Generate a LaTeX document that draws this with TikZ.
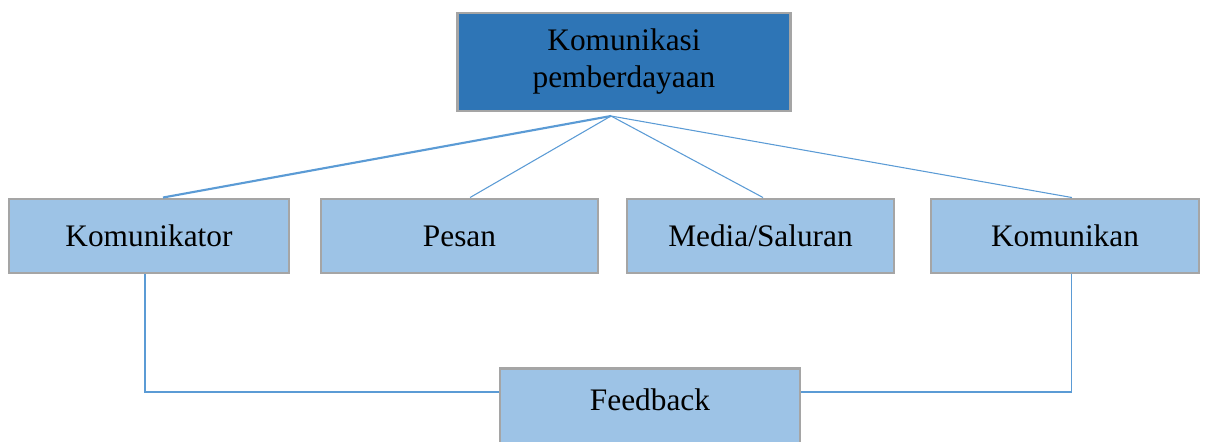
\documentclass[tikz,border=0pt]{standalone}
\usepackage{fontspec}
\setmainfont{Liberation Serif}
\definecolor{darkbox}{HTML}{2E75B6}
\definecolor{lightbox}{HTML}{9DC3E6}
\definecolor{edgegray}{HTML}{A5A5A5}
\definecolor{linkblue}{HTML}{5B9BD5}
\begin{document}
\begin{tikzpicture}[x=0.75pt,y=-0.75pt,
  box/.style={draw=edgegray,line width=2.2pt,fill=lightbox,inner sep=0pt,
    font=\fontsize{23.5pt}{27.75pt}\selectfont,align=center},
  topbox/.style={box,fill=darkbox},
  link/.style={draw=linkblue,line width=0.8pt}]
\useasboundingbox (0,0) rectangle (1208,442);
\node[topbox,minimum width=333*0.75pt,minimum height=98*0.75pt] (top) at (624,62) {Komunikasi\\pemberdayaan};
\node[box,minimum width=280*0.75pt,minimum height=74*0.75pt] (kt) at (149,236) {Komunikator};
\node[box,minimum width=277*0.75pt,minimum height=74*0.75pt] (ps) at (459.5,236) {Pesan};
\node[box,minimum width=267*0.75pt,minimum height=74*0.75pt] (md) at (760.5,236) {Media/Saluran};
\node[box,minimum width=268*0.75pt,minimum height=74*0.75pt] (kn) at (1065,236) {Komunikan};
\node[box,anchor=north,minimum width=300*0.75pt,text height=31.5pt,text depth=30pt] (fb) at (650,367) {Feedback};
\coordinate (hub) at (611,116);
\draw[link,line width=1.6pt] (hub) -- ([xshift=10.5pt]kt.north);
\draw[link] (hub) -- ([xshift=7.9pt]ps.north);
\draw[link] (hub) -- ([xshift=1.9pt]md.north);
\draw[link] (hub) -- ([xshift=5.2pt]kn.north);
\draw[link] ([xshift=-3pt]kt.south) |- ([yshift=-18.75pt]fb.north west);
\draw[link] ([xshift=5.2pt]kn.south) |- ([yshift=-18.75pt]fb.north east);
\end{tikzpicture}
\end{document}
